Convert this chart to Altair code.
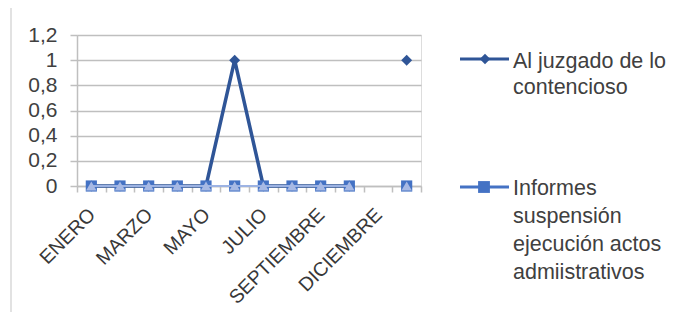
import altair as alt
import pandas as pd

months = ["ENERO", "FEBRERO", "MARZO", "ABRIL", "MAYO", "JUNIO", "JULIO",
          "AGOSTO", "SEPTIEMBRE", "NOVIEMBRE", "DICIEMBRE", "TOTAL"]
shown_labels = ["ENERO", "MARZO", "MAYO", "JULIO", "SEPTIEMBRE", "DICIEMBRE"]
juzgado = [0, 0, 0, 0, 0, 1, 0, 0, 0, 0, None, 1]
informes = [0, 0, 0, 0, 0, 0, 0, 0, 0, 0, None, 0]
serie3 = [0, 0, 0, 0, 0, 0, 0, 0, 0, 0, None, 0]
y_ticks = [0, 0.2, 0.4, 0.6, 0.8, 1.0, 1.2]
legend1 = ["Al juzgado de lo", "contencioso"]
legend2 = ["Informes", "suspensión", "ejecución actos", "admiistrativos"]

rows = []
for name, vals in [("s1", juzgado), ("s2", informes), ("s3", serie3)]:
    seg = 0
    for m, v in zip(months, vals):
        if v is None:
            seg += 1
            continue
        rows.append({"mes": m, "serie": name, "valor": v, "seg": seg})
df = pd.DataFrame(rows)

FONT = "Liberation Sans"
TXT = "#404040"
GRID = "#BFBFBF"

lbl_expr = "indexof(" + str(shown_labels) + ", datum.value) >= 0 ? datum.value : ''"

x_enc = alt.X(
    "mes:N", sort=months, bandPosition=0.5,
    scale=alt.Scale(type="band", domain=months, paddingInner=0, paddingOuter=0),
    axis=alt.Axis(title=None, labelAngle=-45, labelExpr=lbl_expr, tickBand="extent",
                  grid=False, domainColor=GRID, tickColor=GRID, tickSize=6,
                  domainWidth=1.5, tickWidth=1.5,
                  labelFont=FONT, labelFontSize=19.5, labelColor="#383838",
                  labelPadding=13, labelOffset=-6, labelOverlap=False),
)
y_enc = alt.Y(
    "valor:Q",
    scale=alt.Scale(domain=[0, 1.2], nice=False, zero=True),
    axis=alt.Axis(title=None, values=y_ticks,
                  labelExpr="replace(format(datum.value, '.1~f'), '.', ',')",
                  gridColor=GRID, gridWidth=1.5, domainColor=GRID, domainWidth=1.5,
                  tickColor=GRID, tickSize=7, tickWidth=1.5,
                  labelFont=FONT, labelFontSize=21, labelColor=TXT, labelPadding=13),
)

base = alt.Chart(df).encode(x=x_enc, y=y_enc, detail="seg:N")

s1_line = base.transform_filter("datum.serie == 's1'").mark_line(color="#2F5597", strokeWidth=3.5)
s1_pt = base.transform_filter("datum.serie == 's1'").mark_point(
    shape="diamond", filled=True, color="#2F5597", size=120, opacity=1)
s2_line = base.transform_filter("datum.serie == 's2'").mark_line(color="#4472C4", strokeWidth=2)
s2_pt = base.transform_filter("datum.serie == 's2'").mark_point(
    shape="square", filled=True, color="#4472C4", size=125, opacity=1)
s3_line = base.transform_filter("datum.serie == 's3'").mark_line(color="#9DB3E3", strokeWidth=2.2)
s3_pt = base.transform_filter("datum.serie == 's3'").mark_point(
    shape="triangle-up", filled=True, color="#A7B9E4", size=110, opacity=1)

one = pd.DataFrame({"k": [0]})

frame = alt.Chart(one).mark_rule(color="#D9D9D9", strokeWidth=1.5).encode(
    x=alt.value(-66), y=alt.value(-35), y2=alt.value(290))

leg1_line = alt.Chart(one).mark_rule(color="#2F5597", strokeWidth=3).encode(
    x=alt.value(383), x2=alt.value(432), y=alt.value(24))
leg1_pt = alt.Chart(one).mark_point(shape="diamond", filled=True, color="#2F5597",
                                    size=110, opacity=1).encode(
    x=alt.value(408), y=alt.value(24))
leg1_txt = alt.Chart(one).mark_text(
    text="\n".join(legend1), lineBreak="\n", lineHeight=26, align="left",
    baseline="alphabetic", font=FONT, fontSize=21.5, color=TXT).encode(
    x=alt.value(436), y=alt.value(33))

leg2_line = alt.Chart(one).mark_rule(color="#4472C4", strokeWidth=3).encode(
    x=alt.value(383), x2=alt.value(432), y=alt.value(152))
leg2_pt = alt.Chart(one).mark_point(shape="square", filled=True, color="#4472C4",
                                    size=140, opacity=1).encode(
    x=alt.value(407), y=alt.value(152))
leg2_txt = alt.Chart(one).mark_text(
    text="\n".join(legend2), lineBreak="\n", lineHeight=28, align="left",
    baseline="alphabetic", font=FONT, fontSize=21.5, color=TXT).encode(
    x=alt.value(436), y=alt.value(160))

chart = alt.layer(
    s1_line, s1_pt, s2_line, s2_pt, s3_line, s3_pt,
    frame, leg1_line, leg1_pt, leg1_txt, leg2_line, leg2_pt, leg2_txt,
).properties(
    width=344, height=151,
    autosize=alt.AutoSizeParams(type="none"),
    padding={"left": 69, "top": 27, "right": 248, "bottom": 126},
).configure_view(stroke=None).configure(background="white")

chart.save("out.html", embed_options={"renderer": "svg", "actions": False})
